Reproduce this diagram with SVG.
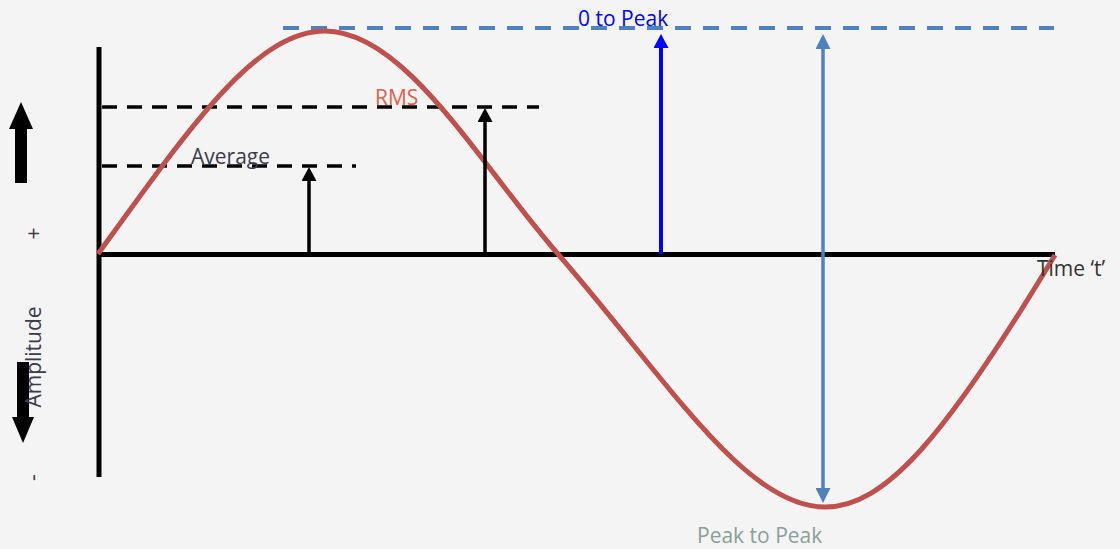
<svg xmlns="http://www.w3.org/2000/svg" width="1120" height="549" viewBox="0 0 1120 549">
  <style>
    .lbl { font-family: "Open Sans", "Liberation Sans", sans-serif; font-size: 21px; }
    .axis { stroke: #000; stroke-width: 5; fill: none; }
    .dash { stroke: #000; stroke-width: 3.5; stroke-dasharray: 15 10; fill: none; }
    .bdash { stroke: #4F81BD; stroke-width: 4; stroke-dasharray: 16 12; fill: none; }
    .karrow { stroke: #000; stroke-width: 3.5; marker-end: url(#headK); }
    .barrow { stroke: #0000FF; stroke-width: 4; marker-end: url(#headB); }
    .sarrow { stroke: #4F81BD; stroke-width: 3.5; marker-end: url(#headS); marker-start: url(#headS); }
  </style>
  <defs>
    <marker id="headK" markerUnits="userSpaceOnUse" markerWidth="14" markerHeight="15" viewBox="0 0 14 15" refX="0" refY="7.5" orient="auto-start-reverse">
      <path d="M0,0 L14,7.5 L0,15 z" fill="#000"/>
    </marker>
    <marker id="headB" markerUnits="userSpaceOnUse" markerWidth="14" markerHeight="15" viewBox="0 0 14 15" refX="0" refY="7.5" orient="auto-start-reverse">
      <path d="M0,0 L14,7.5 L0,15 z" fill="#0000FF"/>
    </marker>
    <marker id="headS" markerUnits="userSpaceOnUse" markerWidth="15" markerHeight="15" viewBox="0 0 15 15" refX="0" refY="7.5" orient="auto-start-reverse">
      <path d="M0,0 L15,7.5 L0,15 z" fill="#4F81BD"/>
    </marker>
  </defs>

  <rect x="0" y="0" width="1120" height="549" fill="#F4F4F4"/>

  <!-- left direction arrows -->
  <g id="amplitude-arrows" fill="#000">
    <polygon points="21,102 33,129 27,129 27,183 15,183 15,129 9,129"/>
    <polygon points="17,362 29,362 29,417 34,417 23,443 12,417 17,417"/>
  </g>

  <!-- axes -->
  <g id="axes">
    <line class="axis" x1="99" y1="47" x2="99" y2="477" stroke-width="5.5"/>
    <line class="axis" x1="97" y1="254.5" x2="1055" y2="254.5"/>
  </g>

  <!-- reference levels -->
  <g id="levels">
    <line class="bdash" x1="283" y1="28" x2="1054" y2="28"/>
    <line class="dash" x1="102" y1="107" x2="539" y2="107"/>
    <line class="dash" x1="102" y1="166" x2="356" y2="166"/>
  </g>

  <!-- sine wave -->
  <g id="wave">
    <path d="M98,254 C188,130 255,31 325,31 C405,31 478,162 558,254 C668,380.5 745,507 825,507 C885,507 945,437.6 1055,255" fill="none" stroke="#C0504D" stroke-width="5"/>
  </g>

  <!-- connectors -->
  <g id="connectors">
    <line class="karrow" x1="309" y1="254" x2="309" y2="181"/>
    <line class="karrow" x1="485" y1="254" x2="485" y2="122"/>
    <line class="barrow" x1="661" y1="254" x2="661" y2="48"/>
    <line class="sarrow" x1="823" y1="49" x2="823" y2="488"/>
  </g>

  <!-- labels -->
  <g id="labels">
    <text class="lbl" x="578" y="26" fill="#0000FF">0 to Peak</text>
    <text class="lbl" x="375" y="105" fill="#E0604C">RMS</text>
    <text class="lbl" x="191" y="164" fill="#3B3B4B">Average</text>
    <text class="lbl" x="1037" y="276" fill="#333333" font-size="23">Time ‘t’</text>
    <text class="lbl" x="697" y="543" fill="#8A9E9A">Peak to Peak</text>
    <text class="lbl" transform="translate(41,357) rotate(-90)" text-anchor="middle" fill="#3B3B4B" font-size="23">Amplitude</text>
    <text class="lbl" transform="translate(41,233.5) rotate(-90)" text-anchor="middle" fill="#3B3B4B">+</text>
    <text class="lbl" transform="translate(40,477.5) rotate(-90)" text-anchor="middle" fill="#3B3B4B">-</text>
  </g>
</svg>
